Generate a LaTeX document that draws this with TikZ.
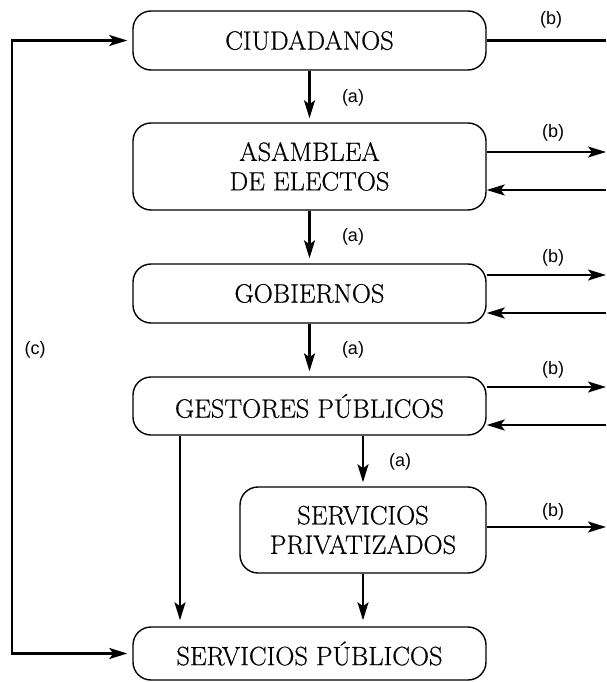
\documentclass[tikz,border=0pt]{standalone}
\usepackage{fontspec}
\usetikzlibrary{arrows.meta}
\newfontfamily\lblfont{Liberation Sans}
\newfontfamily\boxfont[FakeBold=0.6]{Latin Modern Roman}
\begin{document}
\begin{tikzpicture}[x=1pt,y=-1pt,
 box/.style={draw, line width=1.4pt, rounded corners=18pt, align=center,
   font=\boxfont\fontsize{26.5}{29.5}\selectfont, inner sep=0pt, minimum width=353pt},
 tip/.tip={Stealth[length=18pt,width=11pt,inset=4pt]},
 arr/.style={line width=2.2pt, -tip},
 ln/.style={line width=2.2pt},
 lbl/.style={font=\lblfont\fontsize{18}{21}\selectfont, inner sep=0pt}]
\useasboundingbox (0,0) rectangle (606,682);
\node[box, minimum height=59pt] (ciu) at (309.5,40.5) {CIUDADANOS};
\node[box, minimum height=87pt] (asa) at (309.5,166.5) {ASAMBLEA\\DE ELECTOS};
\node[box, minimum height=59pt] (gob) at (309.5,293.5) {GOBIERNOS};
\node[box, minimum height=58pt] (ges) at (309.5,406) {GESTORES PÚBLICOS};
\node[box, minimum height=86pt, minimum width=246pt] (priv) at (363,530) {SERVICIOS\\PRIVATIZADOS};
\node[box, minimum height=53pt] (pub) at (309.5,653.5) {SERVICIOS PÚBLICOS};

\coordinate (re) at (606,0);
\coordinate (cx) at (12,0);
\coordinate (lx) at (180,0);

% downward flow
\draw[arr, shorten >=4pt] (ciu.south) -- (asa.north);
\draw[arr, shorten >=5pt] (asa.south) -- (gob.north);
\draw[arr, shorten >=5pt] (gob.south) -- (ges.north);
\draw[arr, shorten >=4pt] (ges.south -| priv.north) -- (priv.north);
\draw[arr, shorten >=6pt] (ges.south -| lx) -- (pub.north -| lx);
\draw[arr, shorten >=6pt] (priv.south) -- (pub.north -| priv.south);
\node[lbl] (a1) at (353,98) {(a)};
\node[lbl] (a2) at (353,237) {(a)};
\node[lbl] (a3) at (353,350) {(a)};
\node[lbl] (a4) at (400,462) {(a)};

% feedback loop (c)
\draw[line width=2.2pt, tip-tip, shorten >=5pt, shorten <=5pt]
  (ciu.west) -- (ciu.west -| cx) -- (pub.west -| cx) -- (pub.west);
\node[lbl] (c) at (35,350) {(c)};

% right side (b)
\draw[ln] (ciu.east) -- (ciu.east -| re);
\node[lbl] (b1) at (551,20) {(b)};
\draw[arr] (asa.east |- 0,152) -- (re |- 0,152);
\draw[arr] (re |- 0,190) -- (asa.east |- 0,190);
\node[lbl] (b2) at (553,133) {(b)};
\draw[arr] (gob.east |- 0,275) -- (re |- 0,275);
\draw[arr] (re |- 0,313) -- (gob.east |- 0,313);
\node[lbl] (b3) at (553,258) {(b)};
\draw[arr] (ges.east |- 0,387) -- (re |- 0,387);
\draw[arr] (re |- 0,425) -- (ges.east |- 0,425);
\node[lbl] (b4) at (553,370) {(b)};
\draw[arr] (priv.east |- 0,527) -- (re |- 0,527);
\node[lbl] (b5) at (553,512) {(b)};
\end{tikzpicture}
\end{document}
